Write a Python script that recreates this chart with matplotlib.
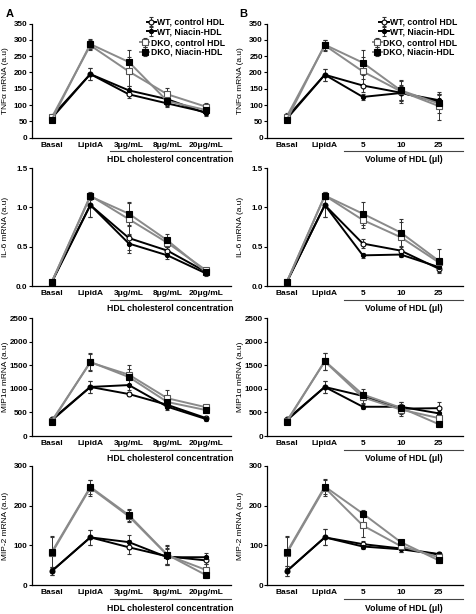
import numpy as np
import matplotlib.pyplot as plt

plt.rcParams['font.family'] = ['Liberation Sans', 'DejaVu Sans']

cats_A = ['Basal', 'LipidA', '3\u03bcg/mL', '8\u03bcg/mL', '20\u03bcg/mL']
cats_B = ['Basal', 'LipidA', '5', '10', '25']
xlab_A = 'HDL cholesterol concentration'
xlab_B = 'Volume of HDL (\u03bcl)'

series = ['wt_ctrl', 'wt_nia', 'dko_ctrl', 'dko_nia']
labels = ['WT, control HDL', 'WT, Niacin-HDL', 'DKO, control HDL', 'DKO, Niacin-HDL']

# TNF-alpha
tnf_A = {'wt_ctrl': [65, 195, 133, 105, 78], 'wt_nia': [60, 195, 145, 118, 75],
         'dko_ctrl': [62, 283, 203, 133, 95], 'dko_nia': [55, 287, 232, 112, 85]}
tnf_A_err = {'wt_ctrl': [8, 18, 10, 10, 8], 'wt_nia': [8, 18, 12, 10, 8],
             'dko_ctrl': [8, 15, 45, 20, 12], 'dko_nia': [8, 15, 38, 15, 10]}
tnf_B = {'wt_ctrl': [62, 193, 160, 138, 110], 'wt_nia': [58, 193, 125, 137, 115],
         'dko_ctrl': [65, 283, 203, 142, 97], 'dko_nia': [55, 285, 230, 145, 105]}
tnf_B_err = {'wt_ctrl': [8, 18, 20, 25, 20], 'wt_nia': [8, 18, 10, 20, 20],
             'dko_ctrl': [10, 18, 45, 35, 42], 'dko_nia': [8, 15, 38, 30, 30]}

# IL-6
il6_A = {'wt_ctrl': [0.05, 1.03, 0.61, 0.45, 0.18], 'wt_nia': [0.05, 1.03, 0.54, 0.39, 0.16],
         'dko_ctrl': [0.05, 1.15, 0.85, 0.55, 0.20], 'dko_nia': [0.05, 1.14, 0.92, 0.58, 0.18]}
il6_A_err = {'wt_ctrl': [0.01, 0.15, 0.15, 0.05, 0.03], 'wt_nia': [0.01, 0.15, 0.12, 0.05, 0.03],
             'dko_ctrl': [0.01, 0.04, 0.2, 0.06, 0.02], 'dko_nia': [0.01, 0.04, 0.15, 0.08, 0.02]}
il6_B = {'wt_ctrl': [0.05, 1.03, 0.54, 0.45, 0.22], 'wt_nia': [0.05, 1.03, 0.39, 0.40, 0.24],
         'dko_ctrl': [0.05, 1.15, 0.84, 0.62, 0.30], 'dko_nia': [0.05, 1.15, 0.92, 0.68, 0.32]}
il6_B_err = {'wt_ctrl': [0.01, 0.15, 0.06, 0.05, 0.04], 'wt_nia': [0.01, 0.15, 0.03, 0.03, 0.04],
             'dko_ctrl': [0.01, 0.04, 0.1, 0.2, 0.05], 'dko_nia': [0.01, 0.04, 0.15, 0.17, 0.15]}

# MIP-1alpha
mip1_A = {'wt_ctrl': [350, 1040, 890, 660, 380], 'wt_nia': [330, 1040, 1080, 620, 360],
          'dko_ctrl': [320, 1560, 1300, 800, 610], 'dko_nia': [300, 1570, 1250, 720, 550]}
mip1_A_err = {'wt_ctrl': [40, 120, 40, 60, 40], 'wt_nia': [40, 130, 100, 60, 40],
              'dko_ctrl': [40, 180, 200, 170, 50], 'dko_nia': [40, 180, 180, 100, 50]}
mip1_B = {'wt_ctrl': [350, 1040, 850, 580, 590], 'wt_nia': [330, 1040, 620, 620, 480],
          'dko_ctrl': [320, 1580, 820, 560, 380], 'dko_nia': [300, 1590, 880, 600, 250]}
mip1_B_err = {'wt_ctrl': [40, 130, 60, 150, 130], 'wt_nia': [40, 130, 50, 60, 80],
              'dko_ctrl': [40, 180, 120, 100, 80], 'dko_nia': [40, 180, 120, 120, 50]}

# MIP-2
mip2_A = {'wt_ctrl': [35, 120, 95, 72, 62], 'wt_nia': [35, 120, 108, 70, 70],
          'dko_ctrl': [80, 245, 173, 75, 38], 'dko_nia': [83, 247, 176, 76, 25]}
mip2_A_err = {'wt_ctrl': [10, 18, 18, 20, 10], 'wt_nia': [10, 18, 18, 20, 10],
              'dko_ctrl': [40, 20, 15, 25, 15], 'dko_nia': [40, 18, 15, 22, 8]}
mip2_B = {'wt_ctrl': [35, 120, 103, 92, 78], 'wt_nia': [35, 120, 97, 90, 77],
          'dko_ctrl': [80, 245, 150, 98, 70], 'dko_nia': [83, 248, 180, 108, 62]}
mip2_B_err = {'wt_ctrl': [12, 20, 8, 8, 5], 'wt_nia': [12, 20, 6, 6, 5],
              'dko_ctrl': [40, 20, 30, 8, 6], 'dko_nia': [40, 18, 8, 6, 6]}

GRAY = '#8a8a8a'
styles = {
    'wt_ctrl': dict(color='black', marker='o', mfc='white', mec='black', ms=3.5),
    'wt_nia': dict(color='black', marker='o', mfc='black', mec='black', ms=3.0),
    'dko_ctrl': dict(color=GRAY, marker='s', mfc='white', mec='#555555', ms=3.8),
    'dko_nia': dict(color=GRAY, marker='s', mfc='black', mec='black', ms=3.8),
}

fs = 5.8


def panel(ax, data, err, cats, xlab, ylab, ymax, ystep, fmt, legend=False):
    x = np.arange(len(cats))
    handles = []
    for s in series:
        st = styles[s]
        h = ax.errorbar(x, data[s], yerr=err[s], color=st['color'], lw=1.4,
                        marker=st['marker'], mfc=st['mfc'], mec=st['mec'],
                        ms=st['ms'], mew=0.8, ecolor='#333333', elinewidth=0.7,
                        capsize=1.5, capthick=0.7)
        handles.append(h)
    ax.set_xlim(-0.52, 4.64)
    ax.set_ylim(0, ymax)
    yt = np.arange(0, ymax + ystep / 2, ystep)
    ax.set_yticks(yt)
    ax.set_yticklabels([fmt.format(v) for v in yt], fontsize=fs, fontweight='bold')
    ax.set_xticks(x)
    ax.set_xticklabels(cats, fontsize=fs + 0.2, fontweight='bold')
    ax.tick_params(axis='x', length=0, pad=3)
    ax.tick_params(axis='y', length=2, width=0.8, pad=1)
    for sp in ['top', 'right']:
        ax.spines[sp].set_visible(False)
    for sp in ['left', 'bottom']:
        ax.spines[sp].set_linewidth(0.9)
    ax.set_ylabel(ylab, fontsize=fs + 0.2)
    ax.yaxis.set_label_coords(-0.115, 0.5)
    tr = ax.get_xaxis_transform()
    ax.plot([1.5, 4.64], [-0.12, -0.12], transform=tr, color='#444444', lw=0.8, clip_on=False)
    ax.text(3.07, -0.195, xlab, transform=tr, ha='center', va='center',
            fontsize=fs + 0.4, fontweight='bold')
    if legend:
        kw = dict(loc='upper right', frameon=False, handlelength=1.1, handletextpad=0.15,
                  labelspacing=0.05, borderpad=0.0, borderaxespad=0.0,
                  prop=dict(weight='bold', size=fs + 0.4))
        l1 = ax.legend(handles[:2], labels[:2], bbox_to_anchor=(0.97, 1.05), **kw)
        ax.add_artist(l1)
        ax.legend(handles[2:], labels[2:], bbox_to_anchor=(0.97, 0.87), **kw)


fig = plt.figure(figsize=(4.76, 6.14), dpi=100)
rows = [(0.7757, 0.186), (0.5342, 0.192), (0.2899, 0.192), (0.0472, 0.194)]
colA, colB, w = 0.0666, 0.561, 0.418

panels = [
    (tnf_A, tnf_A_err, tnf_B, tnf_B_err, 'TNF\u03b1 mRNA (a.u)', 350, 50, '{:.0f}'),
    (il6_A, il6_A_err, il6_B, il6_B_err, 'IL-6 mRNA (a.u)', 1.5, 0.5, '{:.1f}'),
    (mip1_A, mip1_A_err, mip1_B, mip1_B_err, 'MIP1\u03b1 mRNA (a.u)', 2500, 500, '{:.0f}'),
    (mip2_A, mip2_A_err, mip2_B, mip2_B_err, 'MIP-2 mRNA (a.u)', 300, 100, '{:.0f}'),
]

for i, (dA, eA, dB, eB, ylab, ymax, ystep, fmt) in enumerate(panels):
    b, h = rows[i]
    axA = fig.add_axes([colA, b, w, h])
    panel(axA, dA, eA, cats_A, xlab_A, ylab, ymax, ystep, fmt, legend=(i == 0))
    axB = fig.add_axes([colB, b, w - 0.006, h])
    panel(axB, dB, eB, cats_B, xlab_B, ylab, ymax, ystep, fmt, legend=(i == 0))

fig.text(0.012, 0.985, 'A', fontsize=8, fontweight='bold', va='top')
fig.text(0.502, 0.985, 'B', fontsize=8, fontweight='bold', va='top')

fig.savefig('out.png', dpi=100)
